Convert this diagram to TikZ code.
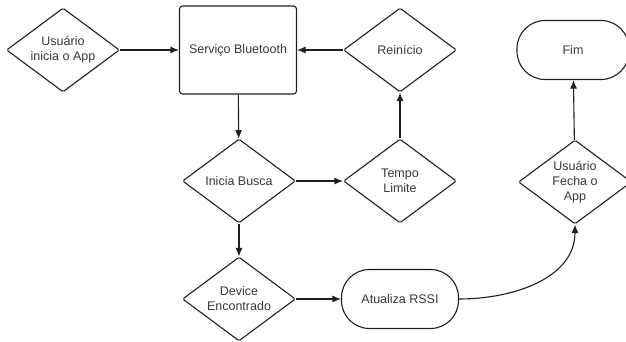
\documentclass[tikz,border=0pt]{standalone}
\usepackage{fontspec}
\setmainfont{Liberation Sans}
\usepackage{tikz}
\usetikzlibrary{positioning,shapes.geometric,arrows.meta}

\begin{document}
\begin{tikzpicture}[x=1pt, y=1pt,
    every node/.style={inner sep=0pt, align=center, text=black!78,
        font=\fontsize{12.5}{15}\selectfont},
    decision/.style={draw, diamond, aspect=1.35, minimum width=113pt,
        minimum height=84pt, rounded corners=1.5pt},
    process/.style={draw, rectangle, minimum width=117pt, minimum height=88pt,
        rounded corners=3pt},
    terminal/.style={draw, rectangle, minimum width=#1, minimum height=59pt,
        rounded corners=28pt},
    flow/.style={-{Latex[length=8.5pt,width=7pt]}},
    line width=1.1pt, draw=black!88]
    \useasboundingbox (0,0) rectangle (626,342);

    % nodes
    \node[decision] (start) at (63,292) {Usuário\\inicia o App};
    \node[process]  (service) at (238,292) {Serviço Bluetooth};
    \node[decision] (restart) at (400,292) {Reinício};
    \node[terminal=112pt] (stop) at (573,292) {Fim};

    \node[decision] (search) at (239,161) {Inicia Busca};
    \node[decision] (timeout) at (400,161) {Tempo\\Limite};
    \node[decision] (close) at (575,160) {Usuário\\Fecha o\\App};

    \node[decision] (found) at (239,43) {Device\\Encontrado};
    \node[terminal=117pt] (rssi) at (400,43) {Atualiza RSSI};

    % top row
    \draw[flow] (start) -- (service);
    \draw[flow] (restart) -- (service);

    % search loop
    \draw[flow] (service) -- (search);
    \draw[flow] (search) -- (timeout);
    \draw[flow] (timeout) -- (restart);

    % device found
    \draw[flow] (search) -- (found);
    \draw[flow] (found) -- (rssi);
    \draw[flow] (rssi.east) to[out=0, in=-90] (close.south);

    % end
    \draw[flow] (close) -- (stop);
\end{tikzpicture}
\end{document}
